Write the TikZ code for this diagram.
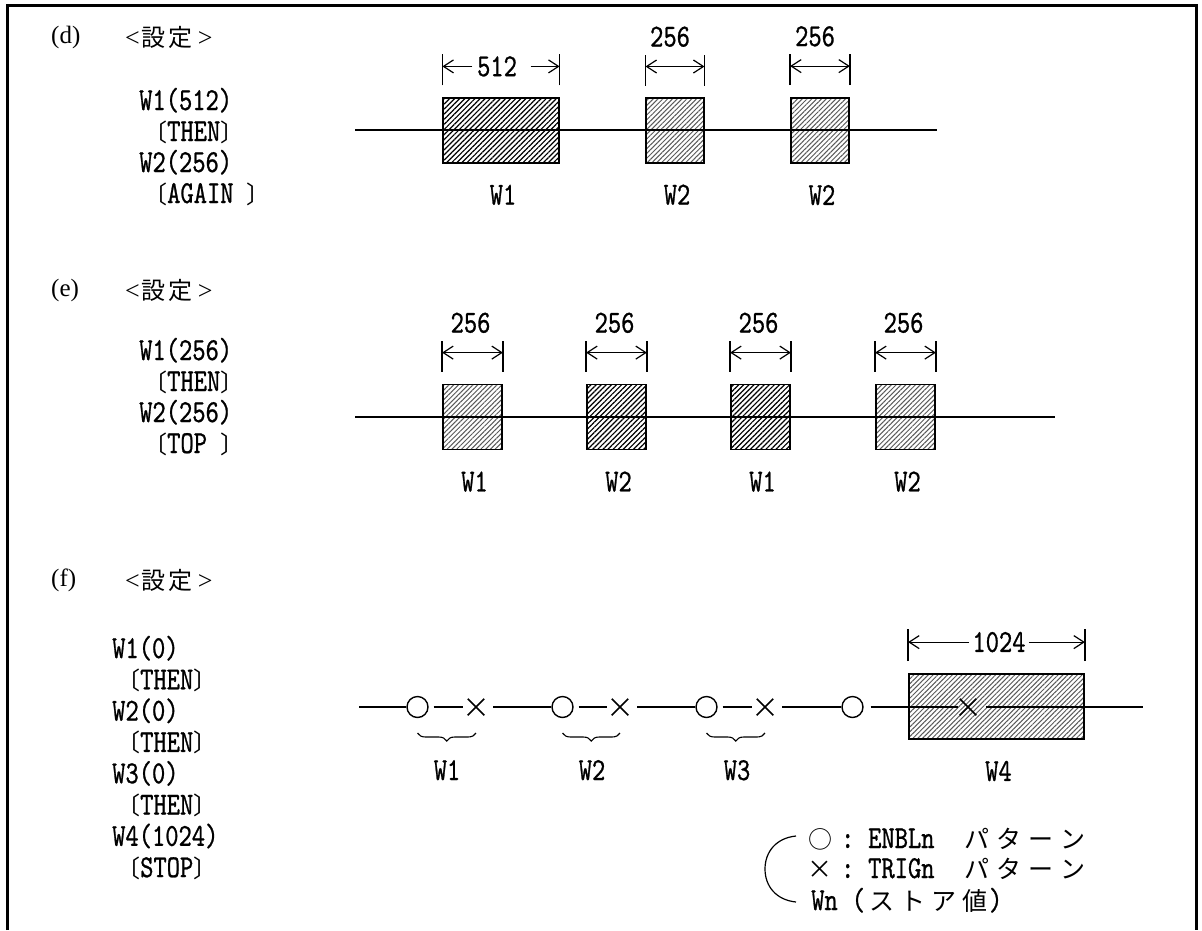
\documentclass[tikz,border=0pt]{standalone}
\usepackage{fontspec}
\usetikzlibrary{arrows.meta,patterns.meta,shapes.misc,decorations.pathreplacing,calc}
\newfontfamily\monof{lmmono10-regular.otf}[FakeStretch=0.79,FakeBold=0.8]
\newfontfamily\cjkf{Noto Sans CJK JP}
\newfontfamily\serf{Liberation Serif}
\newcommand\lbk{\makebox[13pt][r]{\cjkf\fontsize{24}{24}\selectfont 〔}}
\newcommand\rbk{\makebox[13pt][l]{\cjkf\fontsize{24}{24}\selectfont 〕}}
\newcommand\jc[1]{\makebox[32pt][l]{\cjkf\fontsize{25}{25}\selectfont #1}}
\newcommand\jd[1]{\makebox[31pt][l]{\cjkf\fontsize{25}{25}\selectfont #1}}
\newcommand\settei{{\serf\fontsize{26}{26}\selectfont <}{\cjkf\fontsize{24}{24}\selectfont\makebox[27pt]{設}\makebox[27pt]{定}}\hspace{4pt}{\serf\fontsize{26}{26}\selectfont >}}
\tikzset{
  lst/.style={anchor=base west, inner sep=0pt, font=\monof\fontsize{32}{32}\selectfont},
  lbl/.style={anchor=base, inner sep=0pt, font=\monof\fontsize{32}{32}\selectfont},
  mid/.style={anchor=center, inner sep=0pt, font=\monof\fontsize{32}{32}\selectfont},
  sec/.style={anchor=base west, inner sep=0pt, font=\serf\fontsize{25}{25}\selectfont},
  hed/.style={anchor=base west, inner sep=0pt},
  hbox/.style={draw, line width=1.8pt, inner sep=0pt,
    pattern={Lines[angle=45,distance=3.6pt,line width=1.2pt]}, pattern color=black},
  lbox/.style={draw, line width=1.8pt, inner sep=0pt,
    pattern={Lines[angle=45,distance=3.4pt,line width=1pt]}, pattern color=black!65},
  wline/.style={line width=1.3pt},
  tick/.style={line width=1.5pt},
  arr/.style={line width=1.2pt, -{Straight Barb[length=10pt,width=13pt]}},
  darr/.style={line width=1.2pt, {Straight Barb[length=10pt,width=13pt]}-{Straight Barb[length=10pt,width=13pt]}},
  ring/.style={circle, draw, line width=1.4pt, minimum size=21pt, inner sep=0pt},
  xmark/.style={cross out, draw, line width=1.5pt, minimum size=15pt, inner sep=0pt},
  brc/.style={decorate, decoration={brace, mirror, amplitude=8pt}, line width=1.1pt},
  frame/.style={line width=3pt}
}
\begin{document}
\begin{tikzpicture}[x=1pt,y=-1pt]
\useasboundingbox (0,0) rectangle (1202,930);
% frame
\draw[frame] (7,930) -- (7,5) -- (1196,5) -- (1196,930);

% ================= (d) =================
\node[sec] (dlab) at (51,43) {(d)};
\node[hed] (dset) at (125,46) {\settei};
\node[lst] (dl1) at (139,110) {W1(512)};
\node[lst] (dl2) at (154,141) {\lbk THEN\rbk};
\node[lst] (dl3) at (139,172) {W2(256)};
\node[lst] (dl4) at (154,203) {\lbk AGAIN\ \rbk};

\node[hbox, minimum width=116pt, minimum height=65pt] (dW1) at (501,130.5) {};
\node[lbox, minimum width=58pt, minimum height=65pt] (dW2a) at (675,130.5) {};
\node[lbox, minimum width=58pt, minimum height=65pt] (dW2b) at (820,130.5) {};
\coordinate (dA) at (355,130);
\coordinate (dB) at (937,130);
\draw[wline] (dA) -- (dB);

\foreach \b in {dW1,dW2a,dW2b}{
  \draw[tick] ($(\b.north west)+(0,-12)$) -- ++(0,-31);
  \draw[tick] ($(\b.north east)+(0,-12)$) -- ++(0,-31);
}
\draw[arr] ($(dW1.north west)+(30,-31)$) -- ($(dW1.north west)+(0,-31)$);
\draw[arr] ($(dW1.north east)+(-29,-31)$) -- ($(dW1.north east)+(0,-31)$);
\node[mid] (d512) at ($(dW1.north)+(-4,-31)$) {512};
\draw[darr] ($(dW2a.north west)+(0,-31)$) -- ($(dW2a.north east)+(0,-31)$);
\draw[darr] ($(dW2b.north west)+(0,-31)$) -- ($(dW2b.north east)+(0,-31)$);
\node[lbl] (d256a) at ($(dW2a.north)+(-5,-51)$) {256};
\node[lbl] (d256b) at ($(dW2b.north)+(-5,-51)$) {256};
\node[lbl] (dt1) at ($(dW1.south)+(2,41)$) {W1};
\node[lbl] (dt2) at ($(dW2a.south)+(2,41)$) {W2};
\node[lbl] (dt3) at ($(dW2b.south)+(2,41)$) {W2};

% ================= (e) =================
\node[sec] (elab) at (51,296) {(e)};
\node[hed] (eset) at (125,299) {\settei};
\node[lst] (el1) at (139,360) {W1(256)};
\node[lst] (el2) at (154,391) {\lbk THEN\rbk};
\node[lst] (el3) at (139,422) {W2(256)};
\node[lst] (el4) at (154,453) {\lbk TOP\ \rbk};

\node[lbox, minimum width=59pt, minimum height=65pt] (eW1) at (472.5,417) {};
\node[hbox, minimum width=59pt, minimum height=65pt] (eW2) at (616.5,417) {};
\node[hbox, minimum width=59pt, minimum height=65pt] (eW3) at (760.5,417) {};
\node[lbox, minimum width=59pt, minimum height=65pt] (eW4) at (905.5,417) {};
\coordinate (eA) at (355,417);
\coordinate (eB) at (1055,417);
\draw[wline] (eA) -- (eB);
\foreach \b/\t in {eW1/W1,eW2/W2,eW3/W1,eW4/W2}{
  \draw[tick] ($(\b.north west)+(0,-12)$) -- ++(0,-31);
  \draw[tick] ($(\b.north east)+(0,-12)$) -- ++(0,-31);
  \draw[darr] ($(\b.north west)+(0,-31)$) -- ($(\b.north east)+(0,-31)$);
  \node[lbl] (\b n) at ($(\b.north)+(-2,-51)$) {256};
  \node[lbl] (\b t) at ($(\b.south)+(2,41)$) {\t};
}

% ================= (f) =================
\node[sec] (flab) at (51,586) {(f)};
\node[hed] (fset) at (125,589) {\settei};
\node[lst] (fl1) at (112,658) {W1(0)};
\node[lst] (fl2) at (127,689.3) {\lbk THEN\rbk};
\node[lst] (fl3) at (112,720.6) {W2(0)};
\node[lst] (fl4) at (127,751.9) {\lbk THEN\rbk};
\node[lst] (fl5) at (112,783.2) {W3(0)};
\node[lst] (fl6) at (127,814.5) {\lbk THEN\rbk};
\node[lst] (fl7) at (112,845.8) {W4(1024)};
\node[lst] (fl8) at (127,877.1) {\lbk STOP\rbk};

\node[lbox, minimum width=175pt, minimum height=65pt] (fW4) at (996.5,706.5) {};
\draw[tick] ($(fW4.north west)+(0,-12)$) -- ++(0,-32);
\draw[tick] ($(fW4.north east)+(0,-12)$) -- ++(0,-32);
\draw[arr] ($(fW4.north west)+(61,-31)$) -- ($(fW4.north west)+(0,-31)$);
\draw[arr] ($(fW4.north east)+(-56,-31)$) -- ($(fW4.north east)+(0,-31)$);
\node[mid] (f1024) at ($(fW4.north)+(2.5,-31)$) {1024};

\coordinate (fS) at (359,707);
\coordinate (fE) at (1143,707);
\node[ring] (fc1) at (417.5,707) {};
\node[xmark] (fx1) at (476,707) {};
\node[ring] (fc2) at (562.5,707) {};
\node[xmark] (fx2) at (620,707) {};
\node[ring] (fc3) at (706.5,707) {};
\node[xmark] (fx3) at (765,707) {};
\node[ring] (fc4) at (852.5,707) {};
\node[xmark] (fx4) at (968,707) {};
\draw[wline] (fS) -- (fc1);
\draw[wline, shorten <=5pt, shorten >=5pt] (fc1) -- (fx1);
\draw[wline, shorten <=9pt] (fx1) -- (fc2);
\draw[wline, shorten <=5pt, shorten >=5pt] (fc2) -- (fx2);
\draw[wline, shorten <=9pt] (fx2) -- (fc3);
\draw[wline, shorten <=5pt, shorten >=5pt] (fc3) -- (fx3);
\draw[wline, shorten <=9pt] (fx3) -- (fc4);
\draw[wline, shorten <=7pt, shorten >=2pt] (fc4) -- (fx4);
\draw[wline, shorten <=10pt] (fx4) -- (fE);

\draw[brc] ($(fc1.center)+(0,26)$) -- ($(fx1.center)+(0,26)$);
\draw[brc] ($(fc2.center)+(0,26)$) -- ($(fx2.center)+(0,26)$);
\draw[brc] ($(fc3.center)+(0,26)$) -- ($(fx3.center)+(0,26)$);
\node[lbl] (ft1) at (447,780) {W1};
\node[lbl] (ft2) at (592,780) {W2};
\node[lbl] (ft3) at (737,780) {W3};
\node[lbl] (ft4) at ($(fW4.south)+(2,41)$) {W4};

% legend
\draw[line width=1.2pt] (796,836) .. controls (776,838) and (765,852) .. (765,869)
   .. controls (765,886) and (776,900) .. (796,902);
\node[lst] (lg1) at (810,848) {\makebox[20pt][c]{\cjkf\fontsize{24}{24}\selectfont ○}\makebox[35pt][c]{:}\hspace{3pt}ENBLn\hspace{29.6pt}\jc{パ}\jc{タ}\jc{ー}\jc{ン}};
\node[lst] (lg2) at (810,878) {\makebox[20pt][c]{\cjkf\fontsize{25}{25}\selectfont ×}\makebox[35pt][c]{:}\hspace{3pt}TRIGn\hspace{29.6pt}\jc{パ}\jc{タ}\jc{ー}\jc{ン}};
\node[lst] (lg3) at (811,910) {Wn\hspace{14pt}(\hspace{4pt}\jd{ス}\jd{ト}\jd{ア}\jd{値}\hspace{-4pt})};
\end{tikzpicture}
\end{document}
